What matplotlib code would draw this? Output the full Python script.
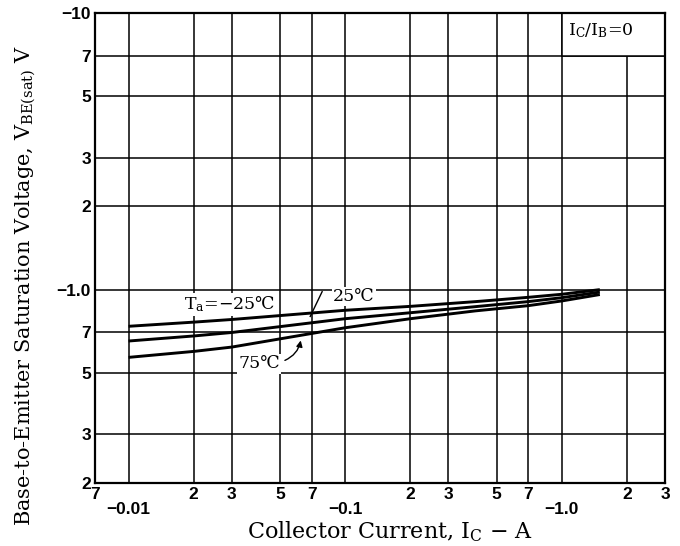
import matplotlib
matplotlib.use('Agg')
import matplotlib.pyplot as plt
from matplotlib.patches import Rectangle

# ============================================================
# DATA (|Ic| in A, |VBE(sat)| in V)
# ============================================================
ic = [0.01, 0.02, 0.03, 0.1, 0.2, 0.4, 0.7, 1.0, 1.5]
vbe_m25 = [0.737, 0.763, 0.78, 0.842, 0.87, 0.905, 0.938, 0.962, 1.0]
vbe_25 = [0.652, 0.68, 0.70, 0.785, 0.825, 0.868, 0.905, 0.935, 0.98]
vbe_75 = [0.569, 0.598, 0.62, 0.728, 0.785, 0.838, 0.875, 0.91, 0.96]

x_ticks = [0.007, 0.01, 0.02, 0.03, 0.05, 0.07, 0.1, 0.2, 0.3, 0.5, 0.7, 1.0, 2, 3]
x_labels = ["7", "\n−0.01", "2", "3", "5", "7", "\n−0.1", "2", "3", "5", "7",
            "\n−1.0", "2", "3"]
y_ticks = [0.2, 0.3, 0.5, 0.7, 1.0, 2, 3, 5, 7, 10]
y_labels = ["2", "3", "5", "7", "−1.0", "2", "3", "5", "7", "−10"]

plt.rcParams['mathtext.fontset'] = 'dejavuserif'
SERIF = ['DejaVu Serif', 'DejaVu Sans']
TICKFONT = dict(family='Liberation Sans', weight='bold', size=12.5)

fig = plt.figure(figsize=(6.8, 5.46), dpi=100)
ax = fig.add_axes([0.1397, 0.1154, 0.8383, 0.8608])

ax.set_xscale('log')
ax.set_yscale('log')
ax.set_xlim(0.007, 3)
ax.set_ylim(0.2, 10)

ax.set_xticks(x_ticks)
ax.set_xticklabels(x_labels, linespacing=1.0, **TICKFONT)
ax.set_yticks(y_ticks)
ax.set_yticklabels(y_labels, **TICKFONT)
ax.minorticks_off()
ax.tick_params(length=0, pad=3)

ax.set_axisbelow(True)
ax.grid(True, color='black', linewidth=1.1)
for s in ax.spines.values():
    s.set_linewidth(1.6)

# curves
for v in (vbe_m25, vbe_25, vbe_75):
    ax.plot(ic, v, color='black', linewidth=2.1, solid_capstyle='butt', zorder=3)

# condition box, top right
ax.add_patch(Rectangle((1.0, 7), 2.0, 3.0, facecolor='white', edgecolor='black',
                       linewidth=1.1, zorder=1.5))
ax.text(1.07, 8.6, r"I$_\mathrm{C}$/I$_\mathrm{B}$=0", family=SERIF, fontsize=12.5,
        ha='left', va='center', zorder=4)

# temperature labels
box = dict(facecolor='white', edgecolor='none', pad=1.0)
ax.text(0.0181, 0.885, r"T$_\mathrm{a}$=−25℃", family=SERIF, fontsize=12.5,
        ha='left', va='center', bbox=box, zorder=2)
ax.text(0.088, 0.945, "25℃", family=SERIF, fontsize=12.5,
        ha='left', va='center', bbox=box, zorder=2)
ax.plot([0.0783, 0.069], [0.983, 0.80], color='black', linewidth=1.0, zorder=4)
ax.text(0.0321, 0.54, "75℃", family=SERIF, fontsize=12.5,
        ha='left', va='center', bbox=box, zorder=2)
ax.annotate("", xy=(0.0627, 0.67), xytext=(0.0513, 0.55),
            arrowprops=dict(arrowstyle='-|>', color='black', lw=1.0,
                            connectionstyle='arc3,rad=0.3', mutation_scale=9),
            zorder=4)

ax.set_xlabel(r"Collector Current, I$_\mathrm{C}$ − A", family=SERIF, fontsize=16)
ax.xaxis.set_label_coords(0.517, -0.078)
ax.set_ylabel(r"Base-to-Emitter Saturation Voltage, V$_\mathrm{BE(sat)}$ V",
              family=SERIF, fontsize=15)
ax.yaxis.set_label_coords(-0.10, 0.42)

plt.savefig('out.png', dpi=100)
